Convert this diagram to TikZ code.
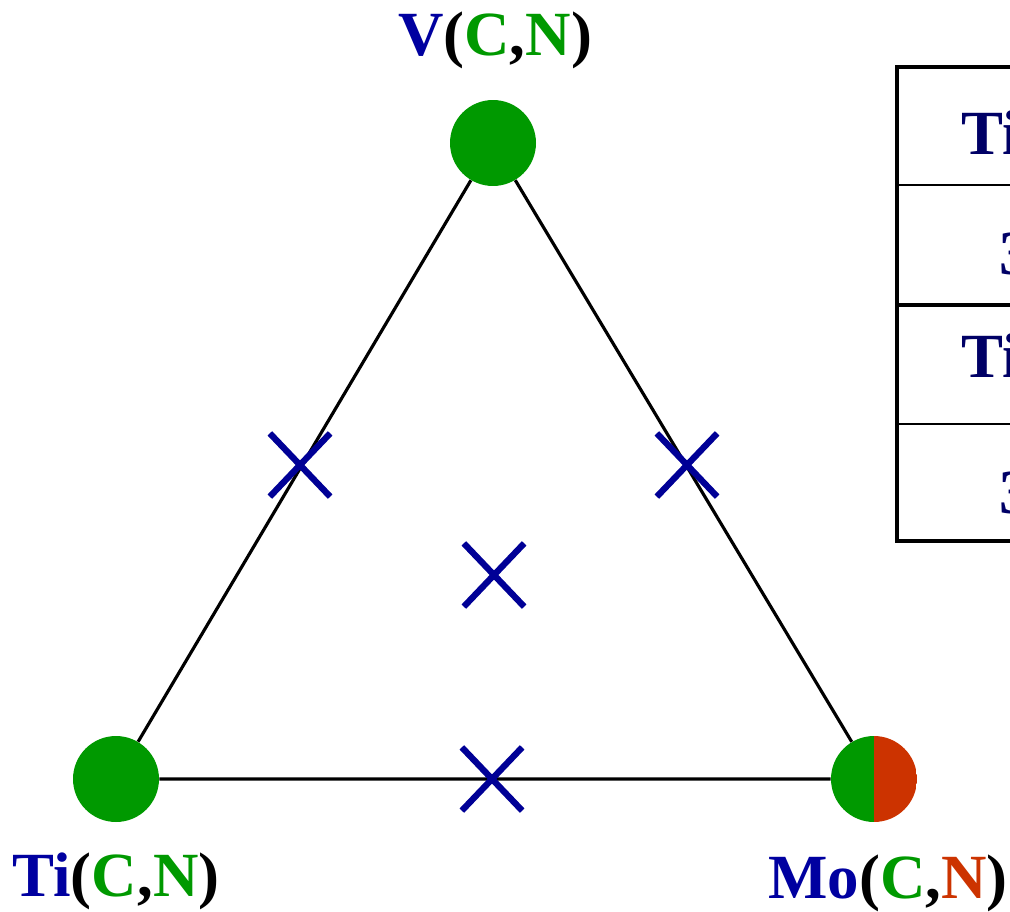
\documentclass[tikz,border=0pt]{standalone}
\usepackage{fontspec}
\setmainfont{Liberation Serif}
\usetikzlibrary{shapes.misc}
\definecolor{labblue}{RGB}{0,0,160}
\definecolor{tabblue}{RGB}{0,0,102}
\definecolor{crossblue}{RGB}{0,0,150}
\definecolor{cgreen}{RGB}{0,153,0}
\definecolor{nred}{RGB}{204,51,0}
\begin{document}
\begin{tikzpicture}[x=0.02cm,y=-0.02cm]
  \tikzstyle{corner}=[circle,inner sep=0pt,minimum size=1.72cm]
  \tikzstyle{mark x}=[cross out,draw=crossblue,line width=3.6pt,inner sep=0pt,minimum width=1.08cm,minimum height=1.14cm]
  \tikzstyle{lab}=[anchor=base,inner sep=0pt,font=\fontsize{35.8}{40}\selectfont\bfseries]
  \tikzstyle{cell}=[anchor=base west,inner sep=0pt,text=tabblue,font=\fontsize{35.8}{40}\selectfont\bfseries]
  \useasboundingbox (0,0) rectangle (1010,912);
  \clip (0,0) rectangle (1010,912);
  % corners of the triangle
  \node[corner,fill=cgreen] (V) at (493,143) {};
  \node[corner,fill=cgreen] (Ti) at (116,779) {};
  \node[corner,path picture={
      \fill[cgreen] (path picture bounding box.south west) rectangle (path picture bounding box.north);
      \fill[nred] (path picture bounding box.south) rectangle (path picture bounding box.north east);}]
    (Mo) at (874,779) {};
  \draw[line width=1.8pt] (V) -- (Ti) -- (Mo) -- (V);
  % mixed compositions
  \node[mark x] (VTi) at (300,465) {};
  \node[mark x] (VMo) at (687,465) {};
  \node[mark x] (mid) at (494,575) {};
  \node[mark x] (TiMo) at (492,779) {};
  % labels
  \node[lab] (labV) at (495,56) {\textcolor{labblue}{V}(\textcolor{cgreen}{C},\textcolor{cgreen}{N})};
  \node[lab] (labTi) at (116,896) {\textcolor{labblue}{Ti}(\textcolor{cgreen}{C},\textcolor{cgreen}{N})};
  \node[lab] (labMo) at (888,898) {\textcolor{labblue}{Mo}(\textcolor{cgreen}{C},\textcolor{nred}{N})};
  % table
  \draw[line width=2.8pt] (897,67) rectangle (1100,541);
  \draw[line width=1.1pt] (897,185) -- (1100,185);
  \draw[line width=2.8pt] (897,305) -- (1100,305);
  \draw[line width=1.1pt] (897,424) -- (1100,424);
  \node[cell] (h1) at (961,155) {Ti};
  \node[cell] (r1) at (999,274) {3};
  \node[cell] (h2) at (961,377) {Ti};
  \node[cell] (r2) at (999,513) {3};
\end{tikzpicture}
\end{document}
